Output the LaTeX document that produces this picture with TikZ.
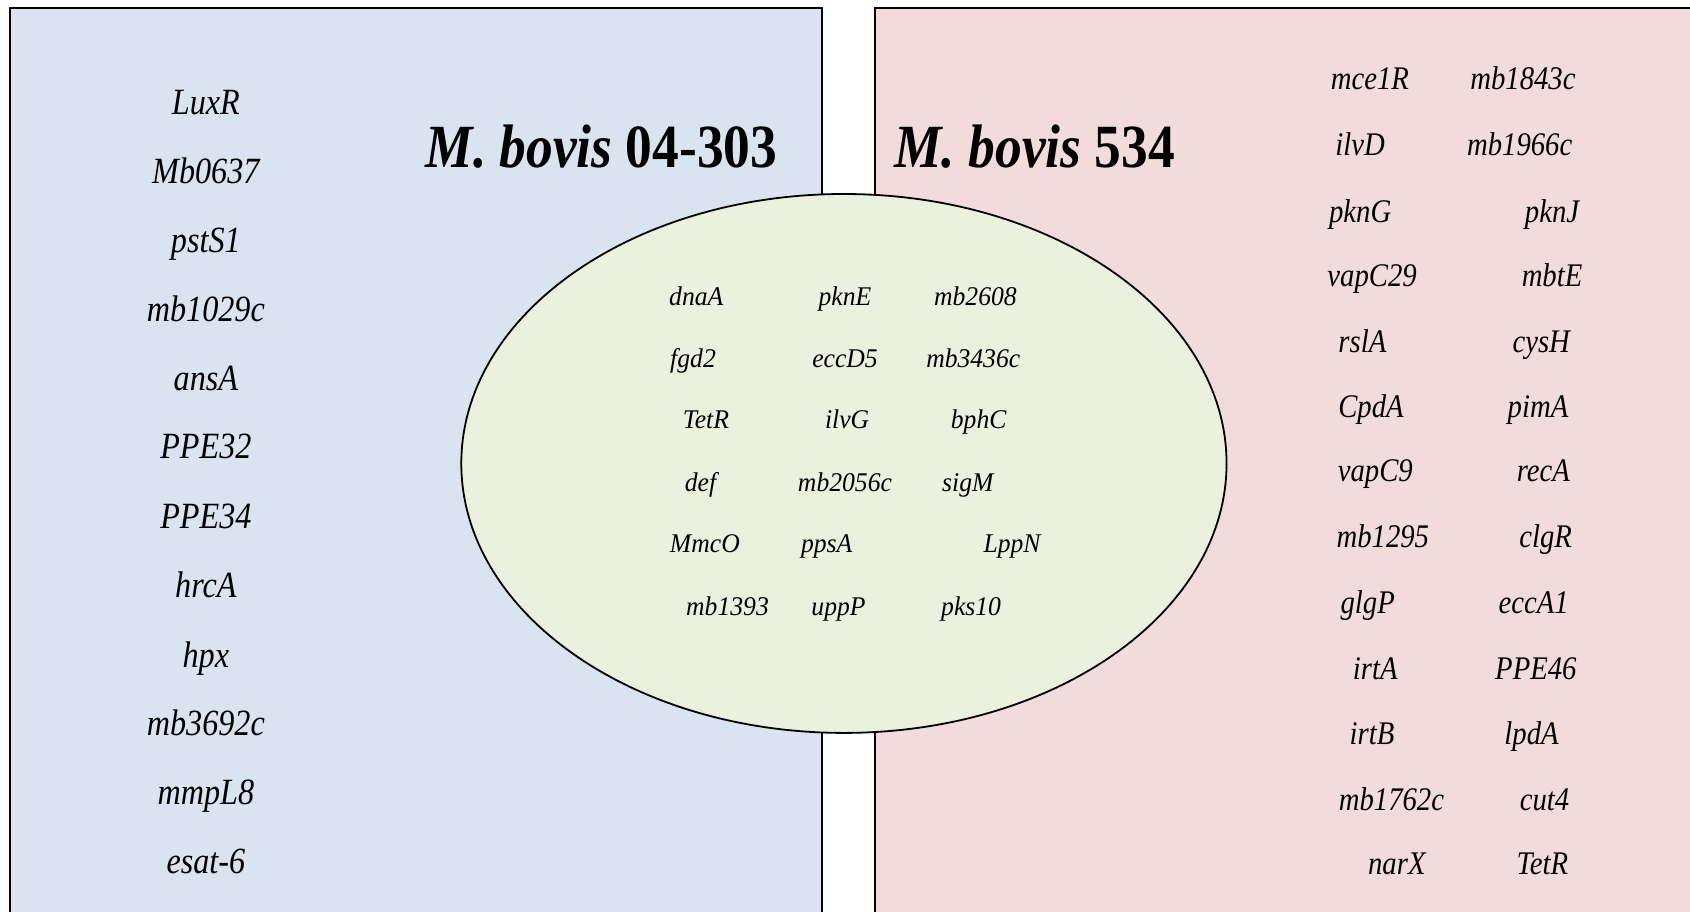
\documentclass[tikz,border=0pt]{standalone}
\usepackage{fontspec}
\setmainfont{Liberation Serif}
\newfontfamily\condfont[FakeStretch=0.87]{Liberation Serif}
\newfontfamily\ellfont[FakeStretch=0.95]{Liberation Serif}
\definecolor{leftfill}{HTML}{DAE3F0}
\definecolor{rightfill}{HTML}{F2DCDB}
\definecolor{ellfill}{HTML}{EBF1DE}
\tikzset{
  panel/.style={draw=black, line width=1pt},
  lgene/.style={font=\condfont\itshape\fontsize{18.5}{20}\selectfont, anchor=base, inner sep=0pt},
  rgene/.style={font=\condfont\itshape\fontsize{16.5}{18}\selectfont, anchor=base, inner sep=0pt},
  egene/.style={font=\ellfont\itshape\fontsize{13.5}{15}\selectfont, anchor=base, inner sep=0pt},
  titletext/.style={font=\condfont\bfseries\fontsize{30.7}{33}\selectfont, anchor=base, inner sep=0pt},
}
\begin{document}
\begin{tikzpicture}[x=0.5389pt, y=-0.5389pt]
\useasboundingbox (0,0) rectangle (1568,846);
\clip (0,0) rectangle (1568,846);
\fill[white] (0,0) rectangle (1568,846);
% panels
\draw[panel, fill=leftfill] (9,7) rectangle (763,870);
\draw[panel, fill=rightfill] (812,7) rectangle (1600,870);
% ellipse
\draw[line width=0.9pt, fill=ellfill] (783,430) ellipse [x radius=355, y radius=250];
% titles
\node[titletext] (t1) at (558,155) {\textit{M. bovis} 04-303};
\node[titletext] (t2) at (960,155) {\textit{M. bovis} 534};
% left list
\foreach \g/\y [count=\i] in {LuxR/95, Mb0637/159, pstS1/223, mb1029c/287, ansA/351, PPE32/414, PPE34/479, hrcA/543, hpx/608, mb3692c/671, mmpL8/735, esat-6/799}
  \node[lgene] (L\i) at (191,\y+11) {\g};
% right list, column 1
\foreach \g/\x/\y [count=\i] in {mce1R/1271/73, ilvD/1262/134, pknG/1262/196, vapC29/1273/256, rslA/1264/317, CpdA/1272/377, vapC9/1276/437, mb1295/1283/498, glgP/1269/559, irtA/1276/620, irtB/1273/681, mb1762c/1291/742, narX/1296/801}
  \node[rgene] (Ra\i) at (\x,\y+10) {\g};
% right list, column 2
\foreach \g/\x/\y [count=\i] in {mb1843c/1413/73, mb1966c/1410/134, pknJ/1440/196, mbtE/1440/256, cysH/1430/317, pimA/1427/377, recA/1432/437, clgR/1434/498, eccA1/1423/559, PPE46/1425/620, lpdA/1421/681, cut4/1433/742, TetR/1431/801}
  \node[rgene] (Rb\i) at (\x,\y+10) {\g};
% shared genes in the ellipse
\foreach \g/\x/\y [count=\i] in {dnaA/646/275, pknE/784/275, mb2608/905/275,
  fgd2/643/333, eccD5/784/333, mb3436c/903/333,
  TetR/655/390, ilvG/786/390, bphC/908/390,
  def/650/448, mb2056c/784/448, sigM/898/448,
  MmcO/654/505, ppsA/767/505, LppN/939/505,
  mb1393/675/563, uppP/778/563, pks10/901/563}
  \node[egene] (E\i) at (\x,\y+8) {\g};
\end{tikzpicture}
\end{document}
